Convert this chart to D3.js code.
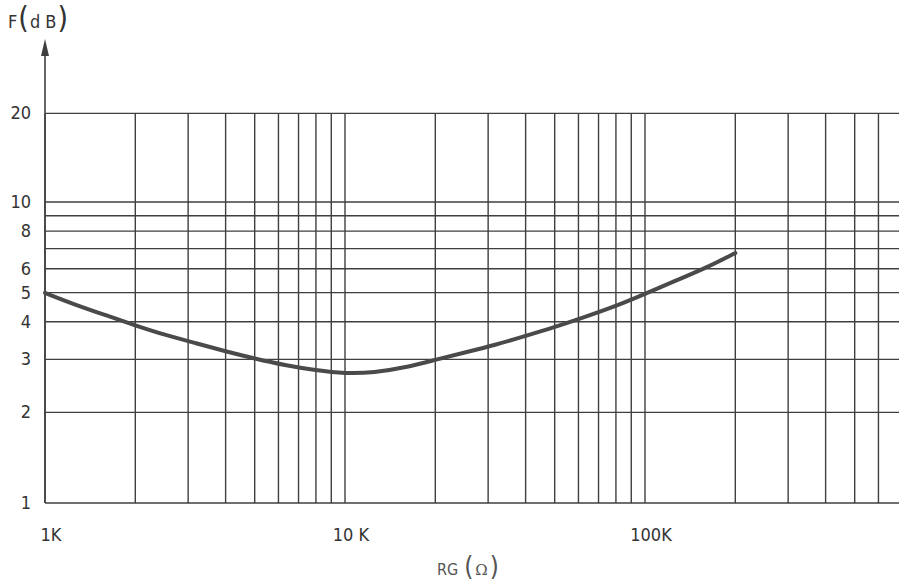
<!DOCTYPE html>
<html>
<head>
<meta charset="utf-8">
<script src="https://cdn.jsdelivr.net/npm/d3@7"></script>
<style>
  html, body { margin: 0; padding: 0; background: #fff; }
  svg { display: block; }
  text { font-family: "DejaVu Sans Condensed", "DejaVu Sans", sans-serif; fill: #333; }
</style>
</head>
<body>
<svg id="chart" width="899" height="582"></svg>
<script>
// Data (noise figure F in dB vs source resistance RG in ohms)
const rgValues = [1000, 1250, 1600, 2000, 2500, 3200, 4000, 5000, 6300, 8000, 10000, 12500, 16000, 20000, 25000, 32000, 40000, 50000, 63000, 80000, 100000, 125000, 160000, 200000];
const fValues  = [4.99, 4.57, 4.20, 3.89, 3.62, 3.39, 3.19, 3.02, 2.87, 2.76, 2.69, 2.71, 2.82, 2.99, 3.16, 3.36, 3.59, 3.84, 4.15, 4.51, 4.95, 5.45, 6.04, 6.77];

const xTickValues = [1000, 10000, 100000];
const xTickLabels = ["1K", "10 K", "100K"];
const yTickValues = [1, 2, 3, 4, 5, 6, 8, 10, 20];
const yTickLabels = ["1", "2", "3", "4", "5", "6", "8", "10", "20"];
const yGridValues = [1, 2, 3, 4, 5, 6, 7, 8, 9, 10, 20];

const W = 899, H = 582;
const svg = d3.select("#chart");

const x = d3.scaleLog().domain([1000, 1e6]).range([45, 945]);
const y = d3.scaleLog().domain([1, 10]).range([503, 202]);

// vertical grid values (1..9 times each decade), only those visible
const xGridValues = [];
[1e3, 1e4, 1e5].forEach(d => { for (let m = 1; m <= 9; m++) xGridValues.push(d * m); });
const xGridVis = xGridValues.filter(v => x(v) <= 893);

const gridColor = "#3f3f3f";
const yTop = y(20) + 2;

// horizontal grid lines
svg.append("g").selectAll("line").data(yGridValues).join("line")
  .attr("x1", x(1000)).attr("x2", W)
  .attr("y1", d => d === 20 ? yTop : y(d)).attr("y2", d => d === 20 ? yTop : y(d))
  .attr("stroke", gridColor).attr("stroke-width", 1.4);

// vertical grid lines
svg.append("g").selectAll("line").data(xGridVis).join("line")
  .attr("x1", d => x(d)).attr("x2", d => x(d))
  .attr("y1", y(1)).attr("y2", yTop)
  .attr("stroke", gridColor).attr("stroke-width", 1.4);

// y axis with arrow
svg.append("line")
  .attr("x1", x(1000)).attr("x2", x(1000))
  .attr("y1", y(1)).attr("y2", 50)
  .attr("stroke", gridColor).attr("stroke-width", 1.6);
svg.append("path")
  .attr("d", `M${x(1000)},39 L${x(1000) - 4},56 L${x(1000) + 4},56 Z`)
  .attr("fill", gridColor);

// y tick labels
svg.append("g").selectAll("text").data(yTickValues).join("text")
  .attr("x", 31).attr("y", d => (d === 20 ? yTop : y(d)) + 1)
  .attr("text-anchor", "end").attr("dominant-baseline", "middle")
  .attr("font-size", 18)
  .text((d, i) => yTickLabels[i]);

// x tick labels
svg.append("g").selectAll("text").data(xTickValues).join("text")
  .attr("x", d => x(d) + 6).attr("y", 536)
  .attr("text-anchor", "middle").attr("dominant-baseline", "middle")
  .attr("font-size", 18)
  .text((d, i) => xTickLabels[i]);

// axis titles
const ft = svg.append("text").attr("x", 8).attr("y", 28).attr("font-size", 18);
ft.append("tspan").text("F");
ft.append("tspan").attr("font-size", 30).attr("dx", 1).text("(");
ft.append("tspan").attr("dx", 1).text("d B");
ft.append("tspan").attr("font-size", 30).attr("dx", 1).text(")");

const xt = svg.append("text").attr("x", 437).attr("y", 575).attr("font-size", 16).style("fill", "#555");
xt.append("tspan").text("RG");
xt.append("tspan").attr("font-size", 26).attr("dx", 6).text("(");
xt.append("tspan").attr("font-family", "DejaVu Serif, serif").attr("font-size", 15).attr("dx", 2).text("Ω");
xt.append("tspan").attr("font-size", 26).attr("dx", 2).text(")");

// curve
const pts = rgValues.map((v, i) => [v, fValues[i]]);
const line = d3.line()
  .x(d => x(d[0])).y(d => y(d[1]))
  .curve(d3.curveBasis);
svg.append("path")
  .datum(pts)
  .attr("d", line)
  .attr("fill", "none")
  .attr("stroke", "#4a4a4a")
  .attr("stroke-width", 4)
  .attr("stroke-linecap", "round");
</script>
</body>
</html>
